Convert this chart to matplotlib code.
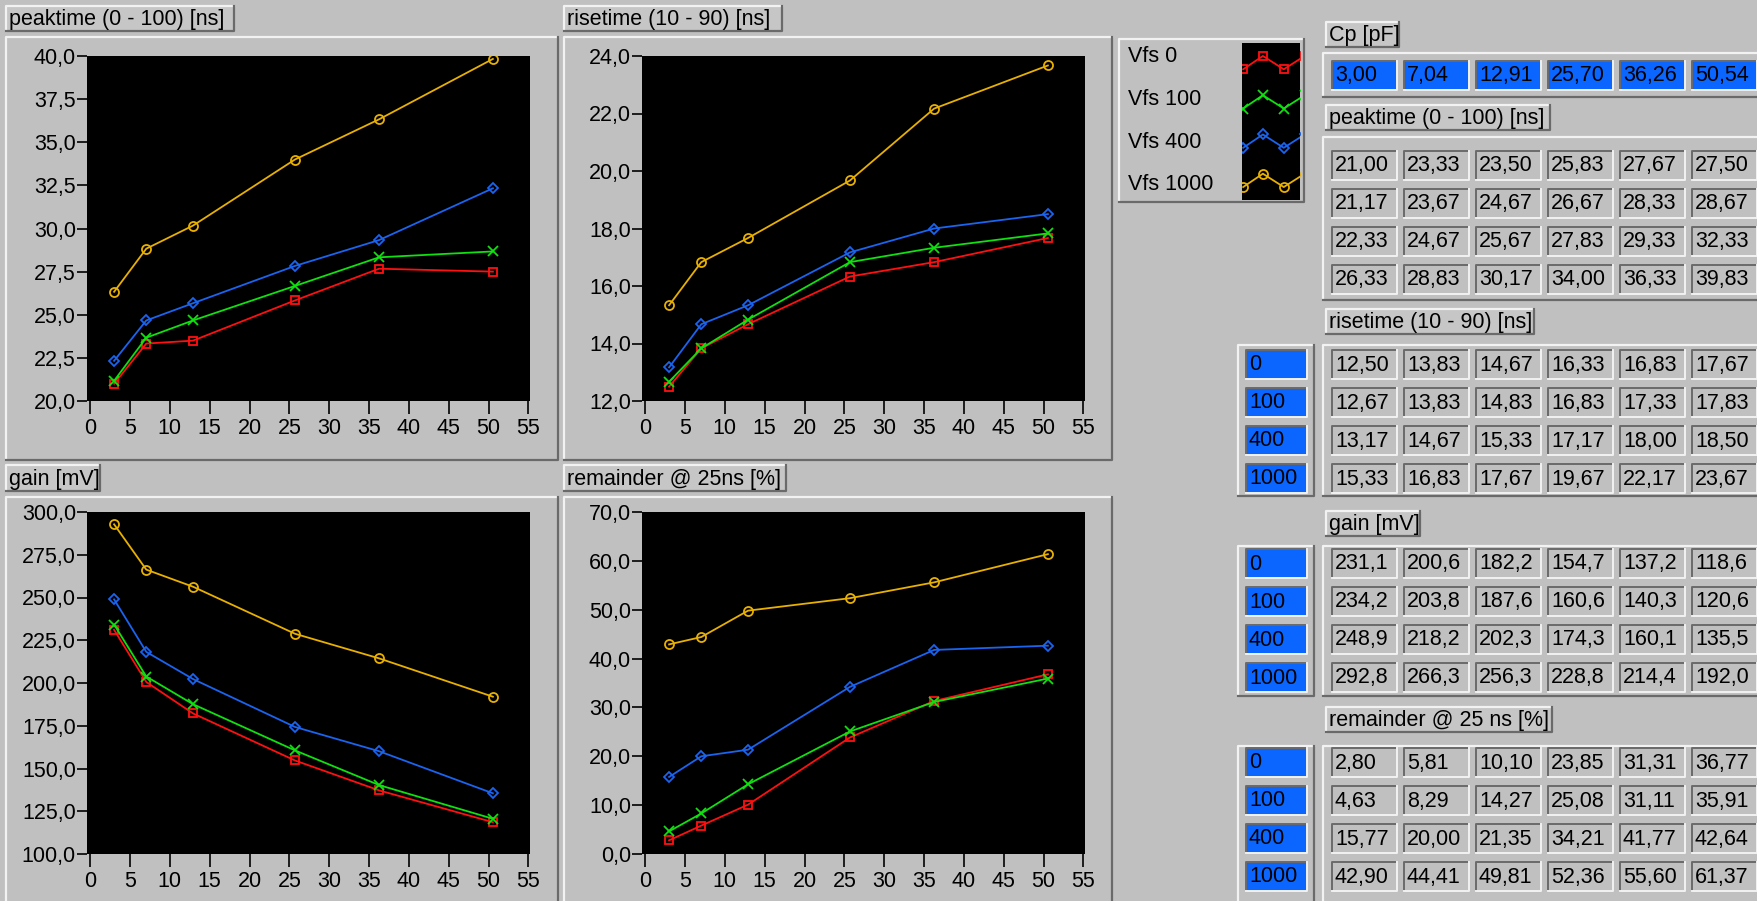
import numpy as np
import matplotlib
matplotlib.use('Agg')
from matplotlib import pyplot as plt
from matplotlib.patches import Rectangle
from matplotlib.ticker import FuncFormatter, MultipleLocator

# measured values: columns follow Cp, rows follow Vfs
cp = [3.00, 7.04, 12.91, 25.70, 36.26, 50.54]
vfs = [0, 100, 400, 1000]
peaktime = [[21.00, 23.33, 23.50, 25.83, 27.67, 27.50],
            [21.17, 23.67, 24.67, 26.67, 28.33, 28.67],
            [22.33, 24.67, 25.67, 27.83, 29.33, 32.33],
            [26.33, 28.83, 30.17, 34.00, 36.33, 39.83]]
risetime = [[12.50, 13.83, 14.67, 16.33, 16.83, 17.67],
            [12.67, 13.83, 14.83, 16.83, 17.33, 17.83],
            [13.17, 14.67, 15.33, 17.17, 18.00, 18.50],
            [15.33, 16.83, 17.67, 19.67, 22.17, 23.67]]
gain = [[231.1, 200.6, 182.2, 154.7, 137.2, 118.6],
        [234.2, 203.8, 187.6, 160.6, 140.3, 120.6],
        [248.9, 218.2, 202.3, 174.3, 160.1, 135.5],
        [292.8, 266.3, 256.3, 228.8, 214.4, 192.0]]
remainder = [[2.80, 5.81, 10.10, 23.85, 31.31, 36.77],
             [4.63, 8.29, 14.27, 25.08, 31.11, 35.91],
             [15.77, 20.00, 21.35, 34.21, 41.77, 42.64],
             [42.90, 44.41, 49.81, 52.36, 55.60, 61.37]]

series_names = ['Vfs %d' % v for v in vfs]
colors = ['#ff1010', '#10e010', '#1a64f0', '#e8b000']
markers = ['s', 'x', 'D', 'o']
msizes = [6, 7, 5, 6.5]

W, H = 1758, 901
GRAY = '#c0c0c0'
LIGHT = '#f2f2f2'
DARK = '#6a6a6a'
BLUE = '#0a66ff'
FONT = 'Liberation Sans'
FS = 15.5

plt.rcParams['font.family'] = [FONT, 'DejaVu Sans']

fig = plt.figure(figsize=(W / 100, H / 100), dpi=100, facecolor=GRAY)
bg = fig.add_axes([0, 0, 1, 1])
bg.set_xlim(0, W)
bg.set_ylim(H, 0)
bg.axis('off')


def px_axes(x0, y0, x1, y1):
    return fig.add_axes([x0 / W, 1 - y1 / H, (x1 - x0) / W, (y1 - y0) / H])


def bevel(x0, y0, x1, y1, face=None, sunken=False, lw=1.6):
    if face is not None:
        bg.add_patch(Rectangle((x0, y0), x1 - x0, y1 - y0,
                               facecolor=face, edgecolor='none'))
    tl, br = (DARK, LIGHT) if sunken else (LIGHT, DARK)
    bg.plot([x0, x0, x1], [y1, y0, y0], color=tl, lw=lw)
    bg.plot([x0, x1, x1], [y1, y1, y0], color=br, lw=lw)


def label_box(x0, y0, x1, y1, text):
    bevel(x0, y0, x1, y1, face='#c6c6c6')
    bg.text(x0 + 3, (y0 + y1) / 2 + 1, text, fontsize=FS, va='center',
            ha='left', color='black')


comma1 = FuncFormatter(lambda v, p: ('%.1f' % v).replace('.', ','))

# graphs: title, data, y range, y step, panel, title box, plot area
charts = [
    ('peaktime (0 - 100) [ns]', peaktime, (20, 40), 2.5,
     (6, 37, 558, 460), (6, 6, 234, 31), (87, 56, 530, 401)),
    ('risetime (10 - 90) [ns]', risetime, (12, 24), 2.0,
     (564, 37, 1112, 460), (564, 6, 782, 31), (642, 56, 1085, 401)),
    ('gain [mV]', gain, (100, 300), 25,
     (6, 497, 558, 905), (6, 465, 100, 491), (87, 512, 530, 854)),
    ('remainder @ 25ns [%]', remainder, (0, 70), 10,
     (564, 497, 1112, 905), (564, 465, 786, 491), (642, 512, 1085, 854)),
]

for title, data, ylim, ystep, panel, tbox, area in charts:
    bevel(*panel)
    label_box(*tbox, title)
    ax = px_axes(*area)
    ax.set_facecolor('black')
    for i in range(len(vfs)):
        ax.plot(cp, data[i], color=colors[i], lw=1.3, marker=markers[i],
                ms=msizes[i], mfc='none', mec=colors[i], mew=1.3)
    ax.set_xlim(-0.4, 55.2)
    ax.set_ylim(*ylim)
    ax.xaxis.set_major_locator(MultipleLocator(5))
    ax.yaxis.set_major_locator(MultipleLocator(ystep))
    ax.yaxis.set_major_formatter(comma1)
    for s in ax.spines.values():
        s.set_visible(False)
    ax.tick_params(axis='y', direction='out', length=7, width=1.2, pad=1,
                   labelsize=FS, colors='black')
    ax.tick_params(axis='x', direction='out', length=9, width=1.2, pad=3,
                   labelsize=FS, colors='black')

# legend box
bevel(1119, 39, 1304, 202)
for i, name in enumerate(series_names):
    bg.text(1128, 57 + i * 42.5, name, fontsize=FS, va='center', ha='left')
sw = px_axes(1242, 43, 1300, 200)
sw.set_facecolor('black')
sw.set_xticks([])
sw.set_yticks([])
for s in sw.spines.values():
    s.set_visible(False)
glyph_x = [0.02, 0.36, 0.72, 1.08]
glyph_dy = [-0.17, 0.17, -0.17, 0.17]
for i in range(len(vfs)):
    yc = 3.5 - i
    sw.plot(glyph_x, [yc + d for d in glyph_dy], color=colors[i], lw=1.3,
            marker=markers[i], ms=msizes[i], mfc='none', mec=colors[i],
            mew=1.3)
sw.set_xlim(0, 1)
sw.set_ylim(0, 4)

# tables
col_x = [1332 + 72 * j for j in range(len(cp))]
CW, CH = 65, 29


def cell(x, y, text, face):
    bevel(x, y - CH / 2, x + CW, y + CH / 2, face=face, sunken=True, lw=1.4)
    bg.text(x + 3, y + 1, text, fontsize=FS, va='center', ha='left')


label_box(1326, 22, 1399, 47, 'Cp [pF]')
bevel(1323, 53, 1762, 97)
for j, c in enumerate(cp):
    cell(col_x[j], 75, ('%.2f' % c).replace('.', ','), BLUE)

tables = [
    ('peaktime (0 - 100) [ns]', peaktime, '%.2f', (105, 130), (137, 300), 165, False),
    ('risetime (10 - 90) [ns]', risetime, '%.2f', (309, 334), (345, 496), 364, True),
    ('gain [mV]', gain, '%.1f', (511, 536), (546, 696), 563, True),
    ('remainder @ 25 ns [%]', remainder, '%.2f', (707, 732), (746, 905), 762, True),
]
label_w = {'peaktime (0 - 100) [ns]': 224, 'risetime (10 - 90) [ns]': 208,
           'gain [mV]': 94, 'remainder @ 25 ns [%]': 226}

for name, data, fmt, (ly0, ly1), (fy0, fy1), row0, indexed in tables:
    label_box(1326, ly0, 1326 + label_w[name], ly1, name)
    bevel(1323, fy0, 1762, fy1)
    if indexed:
        bevel(1238, fy0, 1314, fy1)
    for i in range(len(vfs)):
        y = row0 + 38 * i
        if indexed:
            bg.add_patch(Rectangle((1246, y - CH / 2), 61, CH,
                                   facecolor=BLUE, edgecolor='none'))
            bevel(1246, y - CH / 2, 1307, y + CH / 2, sunken=True, lw=1.4)
            bg.text(1249, y + 1, str(vfs[i]), fontsize=FS, va='center',
                    ha='left')
        for j in range(len(cp)):
            cell(col_x[j], y, (fmt % data[i][j]).replace('.', ','), GRAY)

fig.savefig('out.png', dpi=100, facecolor=GRAY)
plt.close(fig)
